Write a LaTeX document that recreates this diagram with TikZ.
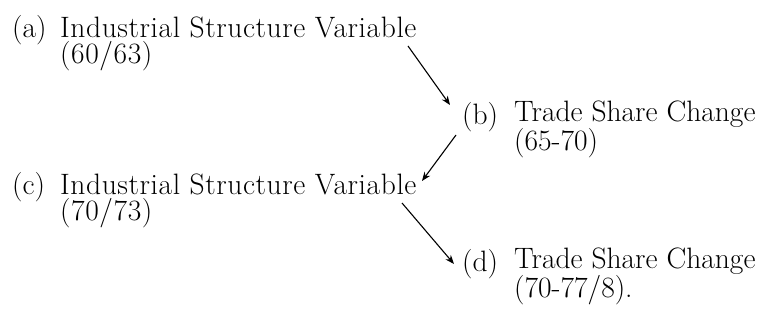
\documentclass[tikz,border=0pt]{standalone}
\usepackage{fontspec}
\setmainfont{Latin Modern Roman}
\usetikzlibrary{arrows.meta}
\begin{document}
\begin{tikzpicture}[x=1pt,y=-1pt,
  tag/.style={anchor=base west,inner sep=0pt,font=\fontsize{29.5}{26}\selectfont},
  item/.style={anchor=base west,inner sep=0pt,align=left,font=\fontsize{29.5}{26}\selectfont},
  wide/.style={font=\fontsize{29.5}{26}\selectfont\addfontfeature{LetterSpace=2}},
  link/.style={line width=1.1pt,-{Stealth[length=9pt,width=7pt]}}]
  \useasboundingbox[fill=white] (0,0) rectangle (766,320);
  % four labelled items: a tag on the first line, a two-line text
  % (the text nodes sit on the baseline of their second line)
  \node[tag]        (ta) at (12,38)   {(a)};
  \node[item,wide]  (a)  at (60,64)   {Industrial Structure Variable\\(60/63)};
  \node[tag]        (tb) at (462,125) {(b)};
  \node[item]       (b)  at (514,151) {Trade Share Change\\(65-70)};
  \node[tag]        (tc) at (12,195)  {(c)};
  \node[item,wide]  (c)  at (60,221)  {Industrial Structure Variable\\(70/73)};
  \node[tag]        (td) at (462,272) {(d)};
  \node[item]       (d)  at (514,298) {Trade Share Change\\(70-77/8).};
  % arrow ends
  \coordinate (a1) at (408,46);
  \coordinate (b0) at (450,105);
  \coordinate (b1) at (456,135);
  \coordinate (c0) at (422,181);
  \coordinate (c1) at (402,203);
  \coordinate (d0) at (454,264);
  \draw[link] (a1) -- (b0);
  \draw[link] (b1) -- (c0);
  \draw[link] (c1) -- (d0);
\end{tikzpicture}
\end{document}
